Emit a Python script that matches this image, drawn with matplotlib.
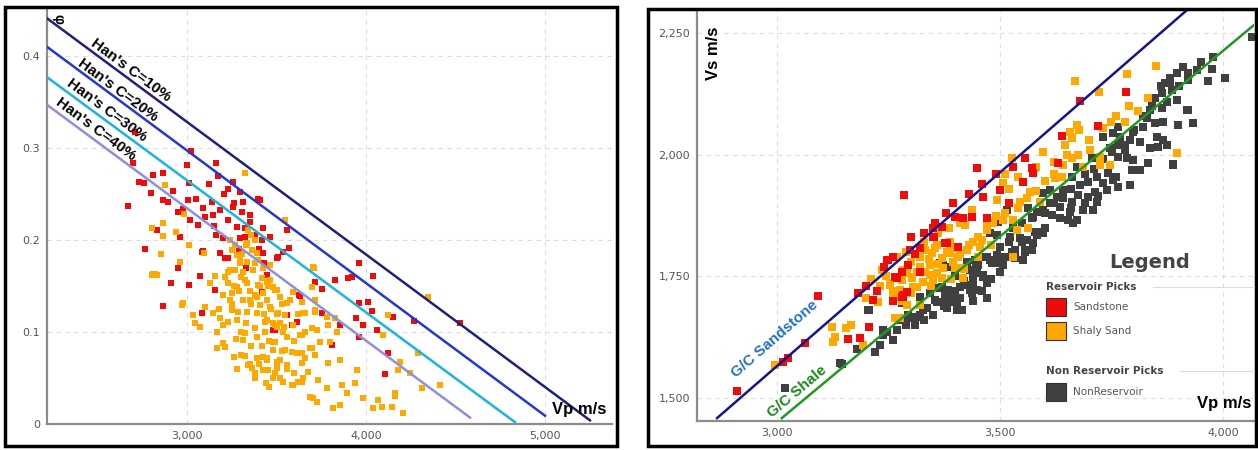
import numpy as np
import matplotlib
matplotlib.use("Agg")
import matplotlib.pyplot as plt
from matplotlib.patches import Rectangle
from matplotlib.lines import Line2D
from matplotlib.ticker import FuncFormatter

# ---------------- left panel data: porosity vs Vp ----------------
sand_vp = [3022, 3000, 3162, 2810, 2866, 2732, 2760, 2799, 2922, 3011, 3123, 3173, 3257, 3207,
           3296, 3006, 2866, 2894, 3140, 3313, 3397, 2670, 2978, 3089, 3184, 3257, 3307, 3352,
           3017, 3061, 3145, 3229, 3279, 3324, 3425, 2832, 2961, 3162, 3201, 3324, 3419, 2765,
           3084, 3184, 3212, 3425, 3503, 2950, 3073, 2911, 3011, 3156, 2866, 3084, 3481, 2709,
           2698, 3408, 3464, 3559, 3570, 3537, 3447, 3961, 4040, 3827, 3900, 3922, 3716, 3755,
           3632, 3961, 4012, 4034, 4152, 4269, 3755, 3945, 3984, 4062, 3961, 3855, 3615, 3587,
           3492, 3811, 4124, 4107, 4526, 3509, 3229, 3419, 3559, 3626, 3089, 3296,
           3260, 3230, 3350, 3380, 3290, 3150, 3100, 3050, 2950, 3400, 3330, 3430]
sand_phi = [0.297, 0.282, 0.284, 0.271, 0.273, 0.263, 0.262, 0.251, 0.253, 0.262, 0.261, 0.270,
            0.263, 0.250, 0.252, 0.243, 0.243, 0.241, 0.241, 0.241, 0.245, 0.237, 0.234, 0.235,
            0.233, 0.236, 0.230, 0.227, 0.222, 0.216, 0.227, 0.222, 0.214, 0.213, 0.213, 0.211,
            0.203, 0.205, 0.202, 0.203, 0.200, 0.190, 0.187, 0.186, 0.180, 0.186, 0.180, 0.170,
            0.161, 0.153, 0.151, 0.146, 0.128, 0.121, 0.102, 0.317, 0.284, 0.243, 0.203, 0.211,
            0.191, 0.187, 0.162, 0.175, 0.161, 0.157, 0.159, 0.160, 0.154, 0.147, 0.139, 0.132,
            0.133, 0.123, 0.116, 0.112, 0.121, 0.115, 0.108, 0.102, 0.095, 0.108, 0.111, 0.108,
            0.102, 0.086, 0.077, 0.054, 0.110, 0.182, 0.180, 0.143, 0.118, 0.140, 0.188, 0.202,
            0.240, 0.255, 0.220, 0.205, 0.190, 0.215, 0.225, 0.245, 0.230, 0.190, 0.170, 0.175]

shaly_vp = [3324, 2877, 2983, 2866, 2804, 2866, 2939, 3011, 2855, 3095, 2961, 2804, 2832, 3156,
            3128, 3212, 3279, 3296, 3335, 3341, 3380, 3391, 3240, 3313, 3369, 3425, 3229, 3279,
            3335, 3397, 3464, 3503, 3251, 3313, 3391, 3447, 2978, 3034, 3101, 3145, 3184, 3251,
            3279, 3335, 3391, 3447, 3045, 3073, 3168, 3201, 3324, 3380, 3436, 3503, 3274, 3391,
            3492, 3201, 3168, 3324, 3263, 3391, 3447, 3503, 3363, 3425, 3380, 3492, 2972, 3537,
            3593, 3704, 3727, 3643, 3559, 3503, 3341, 3447, 3531, 3587, 3643, 3699, 3643, 3699,
            3716, 3716, 3648, 3593, 3537, 3492, 3548, 3710, 3699, 4347, 4124, 3660, 3716, 3783,
            3827, 3788, 3838, 3727, 3660, 3632, 4095, 4292, 3481, 3548, 3615, 3688, 3743, 3799,
            3716, 3855, 3788, 3950, 4191, 4180, 4247, 4414, 4313, 4163, 4163, 3643, 3677, 3732,
            3783, 3866, 3894, 3939, 3984, 4068, 4040, 4090, 4146, 4208, 3688, 3727, 3816, 3855,
            3520, 3587, 3620, 3453, 3425, 3425, 3481, 3520, 3559, 3464, 3509, 3436, 3520, 3643,
            3593, 3447, 3660, 3704, 3251, 3296, 3335, 3363, 3397, 3268, 3324, 3419, 3464, 3492,
            3240, 3352, 3408, 3285, 3229, 3548, 3576, 3313, 3212, 2810, 2822,
            3230, 3260, 3290, 3300, 3350, 3360, 3380, 3410, 3430, 3450, 3470, 3480, 3500, 3530,
            3540, 3560, 3600, 3620, 3250, 3200, 3180, 3300, 3330, 3360, 3420, 3460, 3480, 3520,
            3560, 3600, 3650, 3350, 3300, 3280, 3400, 3440, 3460, 3480, 3380, 3330, 3360, 3380,
            3310, 3270, 3240]
shaly_phi = [0.273, 0.260, 0.228, 0.218, 0.213, 0.204, 0.209, 0.195, 0.185, 0.186, 0.176, 0.162,
             0.162, 0.161, 0.153, 0.160, 0.184, 0.175, 0.197, 0.211, 0.200, 0.186, 0.167, 0.165,
             0.167, 0.170, 0.153, 0.149, 0.153, 0.151, 0.157, 0.146, 0.142, 0.135, 0.138, 0.135,
             0.132, 0.118, 0.127, 0.121, 0.115, 0.124, 0.113, 0.122, 0.121, 0.113, 0.110, 0.105,
             0.100, 0.108, 0.099, 0.104, 0.100, 0.105, 0.092, 0.095, 0.089, 0.088, 0.083, 0.074,
             0.073, 0.072, 0.070, 0.067, 0.061, 0.059, 0.055, 0.055, 0.129, 0.046, 0.042, 0.028,
             0.024, 0.046, 0.064, 0.061, 0.064, 0.072, 0.079, 0.078, 0.077, 0.083, 0.097, 0.104,
             0.122, 0.135, 0.121, 0.108, 0.100, 0.108, 0.222, 0.170, 0.149, 0.138, 0.118, 0.121,
             0.124, 0.116, 0.115, 0.108, 0.100, 0.102, 0.100, 0.097, 0.097, 0.077, 0.089, 0.080,
             0.077, 0.083, 0.089, 0.089, 0.075, 0.070, 0.066, 0.059, 0.067, 0.059, 0.055, 0.042,
             0.039, 0.034, 0.030, 0.066, 0.057, 0.048, 0.039, 0.042, 0.034, 0.045, 0.028, 0.026,
             0.017, 0.018, 0.018, 0.012, 0.029, 0.024, 0.017, 0.021, 0.050, 0.042, 0.046, 0.059,
             0.073, 0.142, 0.149, 0.138, 0.132, 0.127, 0.121, 0.111, 0.110, 0.133, 0.143, 0.154,
             0.072, 0.171, 0.189, 0.182, 0.176, 0.189, 0.178, 0.167, 0.157, 0.159, 0.173, 0.146,
             0.135, 0.135, 0.129, 0.122, 0.111, 0.118, 0.135, 0.091, 0.084, 0.163, 0.163,
             0.165, 0.150, 0.145, 0.160, 0.145, 0.130, 0.140, 0.150, 0.120, 0.150, 0.125, 0.110,
             0.120, 0.130, 0.105, 0.095, 0.090, 0.120, 0.130, 0.140, 0.125, 0.100, 0.110, 0.085,
             0.085, 0.090, 0.080, 0.070, 0.060, 0.055, 0.050, 0.065, 0.075, 0.060, 0.065, 0.045,
             0.040, 0.050, 0.050, 0.195, 0.205, 0.175, 0.185, 0.195, 0.200]

# Han's lines: (Vp start, phi start) -> (Vp end, phi end)
han_labels = ["Han's C=10%", "Han's C=20%", "Han's C=30%", "Han's C=40%"]
han_vp = [[2218, 5251], [2218, 5000], [2218, 4832], [2218, 4581]]
han_phi = [[0.441, 0.004], [0.410, 0.009], [0.377, 0.002], [0.347, 0.007]]
han_colors = ["#1c2180", "#2438d0", "#1ab4e2", "#8c90e0"]
han_text_vp = [2687, 2614, 2553, 2492]
han_text_phi = [0.385, 0.363, 0.341, 0.320]

# ---------------- right panel data: Vs vs Vp ----------------
r_sand_vp = [2910, 3013, 3025, 3063, 3092, 3182, 3206, 3159, 3186, 3215, 3249, 3269, 3294, 3321,
             3352, 3377, 3370, 3283, 3448, 3285, 3462, 3500, 3529, 3556, 3552, 3574, 3399, 3417,
             3437, 3471, 3350, 3298, 3381, 3406, 3247, 3265, 3291, 3280, 3679, 3782, 3720, 3639,
             3630, 3572, 3240, 3260, 3300, 3310, 3330, 3355, 3380, 3395, 3430, 3460, 3280, 3225,
             3200, 3490, 3520, 3260, 3320, 3350]
r_sand_vs = [1514, 1574, 1582, 1613, 1710, 1716, 1646, 1621, 1623, 1701, 1783, 1746, 1773, 1808,
             1831, 1818, 1851, 1712, 1972, 1917, 1913, 1927, 1975, 1993, 1944, 1962, 1872, 1870,
             1872, 1870, 1831, 1804, 1818, 1810, 1783, 1749, 1718, 1707, 2110, 2129, 2059, 2038,
             1983, 1972, 1770, 1790, 1830, 1795, 1840, 1860, 1880, 1900, 1920, 1940, 1760, 1720,
             1730, 1960, 1900, 1700, 1760, 1850]

r_shaly_vp = [2996, 3123, 3155, 3126, 3193, 3226, 3235, 3253, 3265, 3276, 3283, 3303, 3314, 3321,
              3343, 3354, 3370, 3381, 3276, 3527, 3507, 3493, 3437, 3421, 3567, 3545, 3484, 3507,
              3529, 3538, 3563, 3471, 3459, 3439, 3426, 3406, 3388, 3388, 3359, 3347, 3332, 3321,
              3399, 3372, 3359, 3343, 3332, 3314, 3303, 3291, 3280, 3253, 3305, 3327, 3350, 3370,
              3235, 3260, 3226, 3291, 3321, 3265, 3417, 3668, 3784, 3850, 3722, 3832, 3809, 3673,
              3677, 3657, 3661, 3646, 3749, 3780, 3596, 3661, 3641, 3702, 3675, 3686, 3724, 3724,
              3747, 3639, 3623, 3578, 3897, 3590, 3406, 3388, 3455, 3417, 3529,
              3300, 3320, 3340, 3360, 3395, 3410, 3430, 3450, 3470, 3490, 3510, 3540, 3560, 3580,
              3600, 3620, 3260, 3280, 3300, 3245, 3230, 3210, 3270, 3290, 3345, 3390, 3420, 3450,
              3480, 3200, 3330, 3360, 3385, 3410, 3520, 3540, 3510, 3580, 3620, 3650, 3700, 3730,
              3760, 3790, 3165, 3130]
r_shaly_vs = [1568, 1646, 1644, 1615, 1609, 1697, 1763, 1736, 1707, 1722, 1763, 1746, 1728, 1790,
              1773, 1808, 1788, 1800, 1664, 1993, 1942, 1907, 1886, 1855, 1923, 1903, 1860, 1866,
              1866, 1845, 1849, 1845, 1825, 1820, 1804, 1790, 1820, 1798, 1814, 1798, 1804, 1790,
              1767, 1767, 1757, 1753, 1759, 1759, 1749, 1757, 1742, 1732, 1728, 1738, 1742, 1746,
              1763, 1705, 1697, 1691, 1691, 1664, 1746, 2151, 2166, 2182, 2129, 2116, 2090, 2061,
              2051, 2046, 2034, 2020, 2067, 2067, 2005, 1993, 1979, 2009, 1999, 1975, 1995, 1979,
              1979, 1954, 1952, 1972, 2003, 1903, 1808, 1814, 1810, 1767, 1790,
              1780, 1770, 1785, 1775, 1780, 1795, 1815, 1830, 1855, 1875, 1880, 1890, 1910, 1925,
              1945, 1960, 1720, 1700, 1715, 1750, 1730, 1745, 1790, 1800, 1730, 1745, 1765, 1790,
              1815, 1705, 1820, 1840, 1850, 1860, 1930, 1955, 1960, 1975, 1985, 2000, 2030, 2055,
              2080, 2100, 1650, 1625]

r_non_vp = [3018, 3146, 3220, 3206, 3242, 3269, 3283, 3294, 3309, 3321, 3336, 3354, 3377, 3372,
            3365, 3383, 3563, 3572, 3516, 3495, 3478, 3493, 3522, 3545, 3560, 3578, 3534, 3556,
            3455, 3462, 3478, 3495, 3507, 3444, 3433, 3448, 3462, 3471, 3439, 3426, 3448, 3437,
            3410, 3392, 3381, 3388, 3403, 3415, 3381, 3359, 3343, 3350, 3365, 3381, 3280, 3327,
            3316, 3303, 3309, 3269, 3247, 3238, 3204, 3141, 3552, 3977, 3975, 4004, 3966, 3942,
            3922, 3922, 3897, 3881, 3870, 3886, 3863, 3847, 3897, 3874, 3863, 3836, 3922, 3899,
            3933, 3865, 3847, 3829, 3821, 3765, 3753, 3769, 3731, 3798, 3791, 3814, 3852, 3865,
            3874, 3854, 3836, 3765, 3747, 3780, 3765, 3784, 3798, 3832, 3814, 3796, 3888, 3706,
            3742, 3753, 3731, 3791, 3765, 3717, 3697, 3673, 3661, 3679, 3713, 3740, 3697, 3717,
            3675, 3661, 3708, 3686, 3641, 3628, 3612, 3596, 3612, 3634, 3657, 3673, 3652, 3634,
            3616, 3596, 3583, 3574, 3664, 3583, 3596, 3574, 3572, 4065, 3919, 3888, 3410, 3395,
            3377, 3370, 3410, 3433, 3439, 3462, 3451, 3482, 3493, 3527, 3534, 3556, 3549, 3583,
            3596, 3403, 3321, 3294, 3276, 3238,
            3420, 3445, 3470, 3500, 3520, 3440, 3460, 3480, 3500, 3400, 3375, 3350, 3330, 3290,
            3260, 3230, 3180, 3470, 3510, 3530, 3550, 3600, 3620, 3640, 3660, 3690, 3710, 3730,
            3750, 3780, 3800, 3820, 3840, 3860, 3880, 3900, 3910, 3950, 3690, 3720, 3760, 3660,
            3400, 3425, 3600]
r_non_vs = [1521, 1570, 1594, 1681, 1636, 1640, 1695, 1664, 1650, 1670, 1685, 1701, 1705, 1773,
            1726, 1722, 1890, 1870, 1886, 1862, 1839, 1835, 1831, 1829, 1825, 1841, 1804, 1800,
            1810, 1790, 1783, 1777, 1773, 1783, 1763, 1757, 1749, 1736, 1736, 1732, 1722, 1716,
            1705, 1707, 1716, 1697, 1695, 1681, 1685, 1697, 1716, 1728, 1777, 1769, 1695, 1681,
            1666, 1666, 1650, 1640, 1636, 1629, 1681, 1572, 1783, 2200, 2176, 2157, 2151, 2174,
            2168, 2153, 2168, 2157, 2147, 2133, 2127, 2116, 2112, 2108, 2096, 2092, 2092, 2061,
            2065, 2067, 2065, 2075, 2057, 2057, 2044, 2036, 2036, 2046, 2030, 2026, 2036, 2030,
            2020, 2016, 2014, 2020, 2014, 2009, 1995, 1993, 1989, 1983, 1968, 1968, 1979, 1993,
            1962, 1948, 1942, 1938, 1934, 1954, 1944, 1975, 1954, 1938, 1923, 1927, 1913, 1903,
            1917, 1903, 1886, 1886, 1927, 1913, 1927, 1921, 1901, 1892, 1882, 1866, 1866, 1870,
            1876, 1886, 1882, 1872, 1860, 1841, 1839, 1818, 1804, 2242, 2092, 1981, 1681, 1697,
            1712, 1728, 1728, 1722, 1746, 1753, 1773, 1777, 1794, 1800, 1788, 1804, 1820, 1835,
            1839, 1681, 1707, 1670, 1660, 1640,
            1740, 1770, 1790, 1810, 1820, 1700, 1720, 1745, 1760, 1720, 1690, 1670, 1660, 1650,
            1620, 1610, 1600, 1705, 1790, 1850, 1860, 1880, 1900, 1910, 1930, 1960, 1970, 1990,
            2005, 2020, 2050, 2080, 2100, 2140, 2150, 2140, 2180, 2190, 1900, 1915, 1955, 1890,
            1750, 1780, 1850]

# Greenberg-Castagna trend lines (end points)
gc_sand_vp = [2866, 3919]
gc_sand_vs = [1459, 2297]
gc_shale_vp = [3011, 4078]
gc_shale_vs = [1459, 2273]

RED = "#f00a0a"
ORANGE = "#ffa800"
GRAY = "#404040"
BOLD = "Liberation Sans"

fig = plt.figure(figsize=(12.58, 4.5), dpi=100)


def style_axes(ax):
    for s in ["top", "right"]:
        ax.spines[s].set_visible(False)
    for s in ["left", "bottom"]:
        ax.spines[s].set_color("#8c8c8c")
        ax.spines[s].set_linewidth(1.6)
    ax.tick_params(length=0, labelsize=8, labelcolor="#555555", pad=5)
    ax.grid(True, ls=(0, (4, 4)), color="#dddddd", lw=0.8)
    ax.set_axisbelow(True)


# ---------------- left ----------------
ax1 = fig.add_axes([47 / 1258, 1 - 424 / 450, 565 / 1258, 414 / 450])
style_axes(ax1)
ax1.set_xlim(2218, 5374)
ax1.set_ylim(0, 0.45)
ax1.set_xticks([3000, 4000, 5000])
ax1.set_yticks([0, 0.1, 0.2, 0.3, 0.4])
ax1.xaxis.set_major_formatter(FuncFormatter(lambda v, p: f"{v:,.0f}"))
ax1.yaxis.set_major_formatter(FuncFormatter(lambda v, p: "0" if v == 0 else f"{v:.1f}"))

ax1.scatter(sand_vp, sand_phi, marker="s", s=24, color=RED, linewidths=0, zorder=2)
ax1.scatter(shaly_vp, shaly_phi, marker="s", s=24, color=ORANGE, linewidths=0, zorder=2)
for vp, phi, c in zip(han_vp, han_phi, han_colors):
    ax1.plot(vp, phi, color=c, lw=1.8, zorder=3)
for lab, x, y in zip(han_labels, han_text_vp, han_text_phi):
    ax1.text(x, y, lab, rotation=-36.5, ha="center", va="center", fontsize=11,
             fontweight="bold", family=BOLD, zorder=4)
ax1.text(2280, 0.440, "φ", rotation=-90, ha="center", va="center", fontsize=10,
         fontweight="bold", family=BOLD)
ax1.text(5190, 0.016, "Vp m/s", ha="center", va="center", fontsize=12,
         fontweight="bold", family=BOLD, zorder=4)

# ---------------- right ----------------
ax2 = fig.add_axes([697 / 1258, 1 - 421 / 450, 557 / 1258, 411 / 450])
style_axes(ax2)
ax2.set_xlim(2821, 4069)
ax2.set_ylim(1453, 2297)
ax2.set_xticks([3000, 3500, 4000])
ax2.set_yticks([1500, 1750, 2000, 2250])
fmt = FuncFormatter(lambda v, p: f"{v:,.0f}")
ax2.xaxis.set_major_formatter(fmt)
ax2.yaxis.set_major_formatter(fmt)

ax2.scatter(r_non_vp, r_non_vs, marker="s", s=26, color=GRAY, linewidths=0, zorder=2)
ax2.scatter(r_shaly_vp, r_shaly_vs, marker="s", s=26, color=ORANGE, linewidths=0, zorder=2)
ax2.scatter(r_sand_vp, r_sand_vs, marker="s", s=26, color=RED, linewidths=0, zorder=2)
ax2.plot(gc_sand_vp, gc_sand_vs, color="#14148c", lw=1.8, zorder=3)
ax2.plot(gc_shale_vp, gc_shale_vs, color="#1f9a1f", lw=1.8, zorder=3)
ax2.text(2996, 1621, "G/C Sandstone", rotation=41, ha="center", va="center", fontsize=11,
         fontweight="bold", family=BOLD, color="#1f72c4", zorder=4)
ax2.text(3045, 1514, "G/C Shale", rotation=40, ha="center", va="center", fontsize=11,
         fontweight="bold", family=BOLD, color="#1a8a1a", zorder=4)
ax2.text(2857, 2209, "Vs m/s", rotation=90, ha="center", va="center", fontsize=12,
         fontweight="bold", family=BOLD)
ax2.text(4002, 1488, "Vp m/s", ha="center", va="center", fontsize=12,
         fontweight="bold", family=BOLD)

# legend drawn by hand (grouped headings)
fig.text(1150 / 1258, 1 - 263 / 450, "Legend", ha="center", va="center", fontsize=14,
         fontweight="bold", color="#444444")
groups = [("Reservoir Picks", 287, 1153), ("Non Reservoir Picks", 371, 1180)]
for title, y, xline in groups:
    fig.text(1046 / 1258, 1 - y / 450, title, ha="left", va="center", fontsize=7.5,
             fontweight="bold", color="#444444")
    fig.add_artist(Line2D([xline / 1258, 1254 / 1258], [1 - y / 450, 1 - y / 450],
                          color="#dddddd", lw=0.8))
entries = [("Sandstone", RED, 307), ("Shaly Sand", ORANGE, 331), ("NonReservoir", GRAY, 392)]
for name, col, y in entries:
    fig.add_artist(Rectangle((1046 / 1258, 1 - (y + 9) / 450), 20 / 1258, 18 / 450,
                             facecolor=col, edgecolor="#333333", lw=0.8))
    fig.text(1073 / 1258, 1 - y / 450, name, ha="left", va="center", fontsize=7.5,
             color="#555555")

# panel frames
fig.add_artist(Rectangle((5 / 1258, 1 - 446 / 450), 612 / 1258, 439 / 450, fill=False,
                         edgecolor="black", lw=2.5))
fig.add_artist(Rectangle((648 / 1258, 1 - 446 / 450), 608 / 1258, 437 / 450, fill=False,
                         edgecolor="black", lw=2.5))

fig.savefig("out.png", dpi=100)
